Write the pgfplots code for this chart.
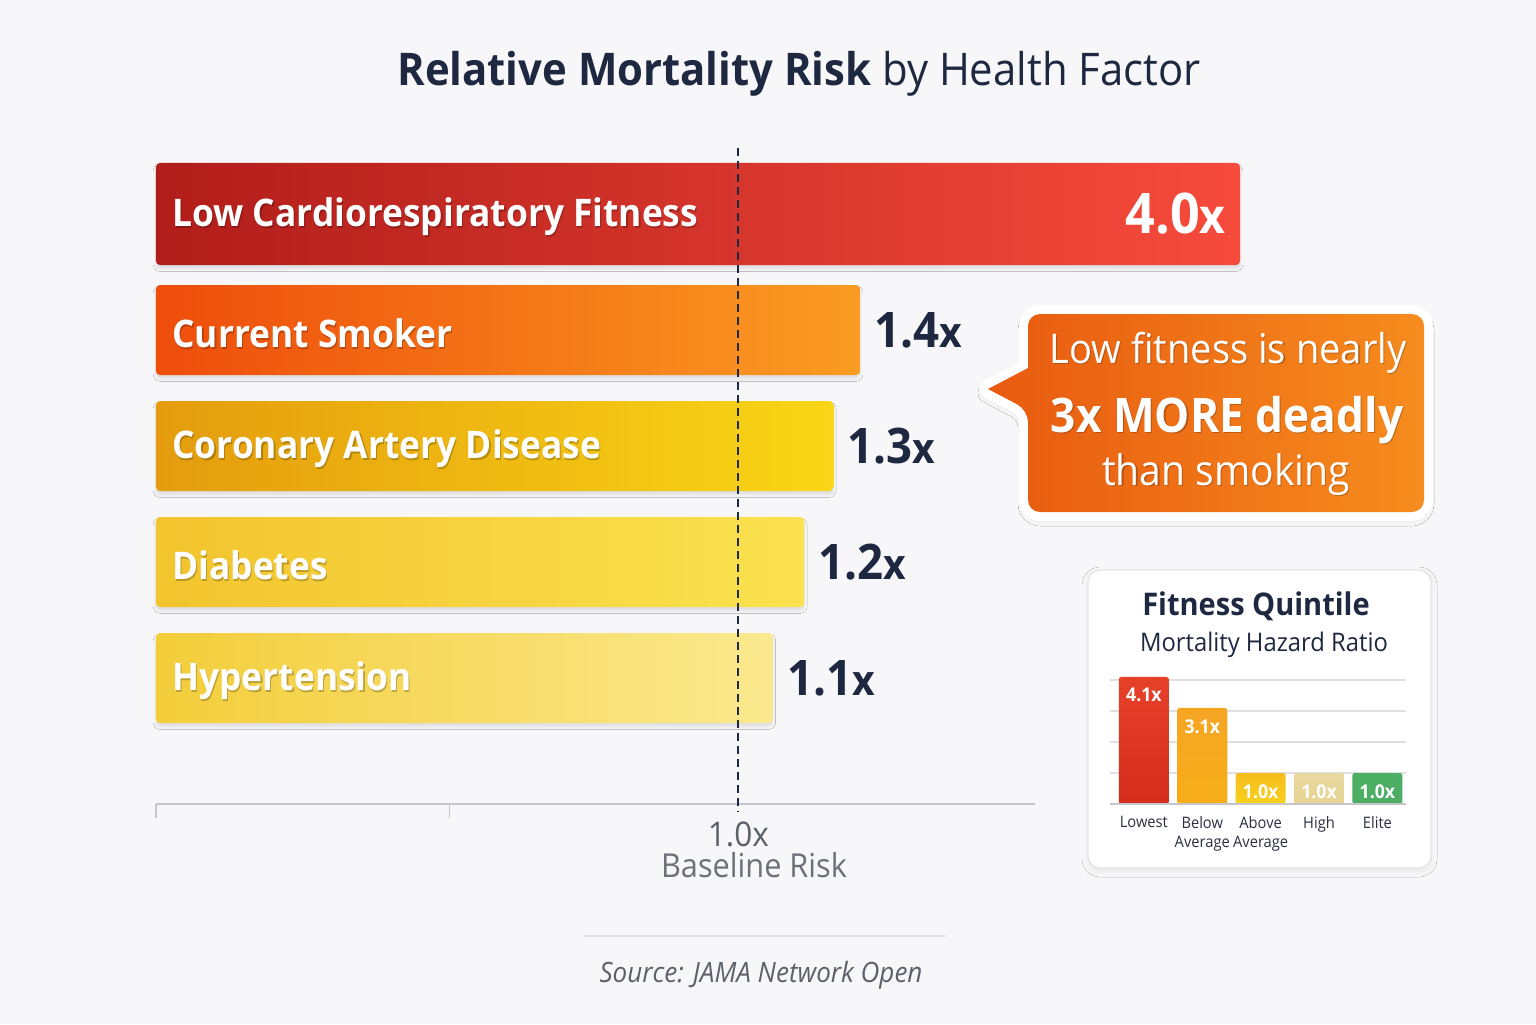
\documentclass[border=0pt]{standalone}
\usepackage{pgfplots}
\pgfplotsset{compat=1.18}
\usepackage{fontspec}
\setmainfont{Open Sans}[FakeStretch=0.93]
\usetikzlibrary{shadows.blur}

% palette
\definecolor{pagebg}{HTML}{F7F7F9}
\definecolor{ink}{HTML}{1E2840}
\definecolor{ink2}{HTML}{2A3040}
\definecolor{muted}{HTML}{5C606A}
\definecolor{axisgray}{HTML}{C4C6CC}
\definecolor{sepgray}{HTML}{E2E3E7}
\definecolor{gridgray}{HTML}{DEDFE3}
\definecolor{cardborder}{HTML}{E4E5EA}
\definecolor{cardioL}{HTML}{B11D1A}
\definecolor{cardioR}{HTML}{F64B3C}
\definecolor{smokeL}{HTML}{EE4D0C}
\definecolor{smokeR}{HTML}{FA9C22}
\definecolor{cadL}{HTML}{E49C0E}
\definecolor{cadR}{HTML}{F9D616}
\definecolor{diabL}{HTML}{F2C42E}
\definecolor{diabR}{HTML}{FBE250}
\definecolor{hyperL}{HTML}{F3CD3A}
\definecolor{hyperR}{HTML}{FBE98F}
\definecolor{calloutL}{HTML}{E85A10}
\definecolor{calloutR}{HTML}{F68C1E}
\definecolor{qRedT}{HTML}{E8412A}
\definecolor{qRedB}{HTML}{D52C1C}
\definecolor{qOrT}{HTML}{F6A523}
\definecolor{qOrB}{HTML}{F7AE18}
\definecolor{qYeT}{HTML}{F5BD1E}
\definecolor{qYeB}{HTML}{F9D11C}
\definecolor{qTanT}{HTML}{E9D8A0}
\definecolor{qTanB}{HTML}{E5D492}
\definecolor{qGreen}{HTML}{4CAE63}

% value label: digits, then a slightly smaller "x"
\newcommand\val[3]{{\fontsize{#2}{#2}\selectfont\bfseries #1{\fontsize{#3}{#3}\selectfont x}}}

% white text with a soft drop shadow
\newcommand\shadowlabel[3]{%
  \node[#1, inner sep=0pt, text=black, text opacity=0.22, xshift=0.6pt, yshift=-0.9pt] at #2 {#3};
  \node[#1, inner sep=0pt, text=white] at #2 {#3};}

\begin{document}
\begin{tikzpicture}[outside value/.style={anchor=west, inner sep=0pt, xshift=7pt, text=ink},
  barname/.style={anchor=west, xshift=8pt, yshift=-1.5pt, font=\fontsize{19}{22}\selectfont\bfseries}]
% page layout drawn in a 1536 x 1024 grid (y downwards)
\begin{scope}[x=0.5pt,y=-0.5pt]
\useasboundingbox (0,0) rectangle (1536,1024);
\fill[pagebg] (0,0) rectangle (1536,1024);
\node[anchor=base, inner sep=0pt, text=ink, font=\fontsize{22.5}{26}\selectfont]
  at (799,85) {\textbf{Relative Mortality Risk} by Health Factor};
\end{scope}

% ---------------- main bar chart (log scale, bars start at xmin) ----------------
\begin{axis}[
  at={(78pt,-72.2pt)}, anchor=north west,
  scale only axis, width=542pt, height=359.6pt,
  xmode=log,
  xmin=0.2, xmax=4.0,
  ymin=-0.6, ymax=5.6, y dir=reverse,
  hide axis, clip=false,
  every axis plot/.append style={draw=none, mark=none, rounded corners=2pt,
    blur shadow={shadow xshift=0pt, shadow yshift=-1.8pt, shadow blur radius=1.4pt, shadow opacity=10}},
]
% each bar: from the axis origin (xmin) to its hazard ratio
\addplot[left color=cardioL, right color=cardioR]
  coordinates {(0.2,-0.44) (4.0,-0.44) (4.0,0.44) (0.2,0.44)} -- cycle;
\addplot[left color=smokeL, right color=smokeR]
  coordinates {(0.2,0.612) (1.4,0.612) (1.4,1.388) (0.2,1.388)} -- cycle;
\addplot[left color=cadL, right color=cadR]
  coordinates {(0.2,1.612) (1.3,1.612) (1.3,2.388) (0.2,2.388)} -- cycle;
\addplot[left color=diabL, right color=diabR]
  coordinates {(0.2,2.612) (1.2,2.612) (1.2,3.388) (0.2,3.388)} -- cycle;
\addplot[left color=hyperL, right color=hyperR]
  coordinates {(0.2,3.612) (1.1,3.612) (1.1,4.388) (0.2,4.388)} -- cycle;

% value labels
\node[anchor=east, inner sep=0pt, xshift=-7pt, text=white] at (axis cs:4.0,0) {\val{4.0}{28}{24}};
\node[outside value] at (axis cs:1.4,1) {\val{1.4}{24.5}{21}};
\node[outside value] at (axis cs:1.3,2) {\val{1.3}{24.5}{21}};
\node[outside value] at (axis cs:1.2,3) {\val{1.2}{24.5}{21}};
\node[outside value] at (axis cs:1.1,4) {\val{1.1}{24.5}{21}};

% category names inside the bars
\shadowlabel{barname}{(axis cs:0.2,0)}{Low Cardiorespiratory Fitness}
\shadowlabel{barname}{(axis cs:0.2,1)}{Current Smoker}
\shadowlabel{barname}{(axis cs:0.2,2)}{Coronary Artery Disease}
\shadowlabel{barname}{(axis cs:0.2,3)}{Diabetes}
\shadowlabel{barname}{(axis cs:0.2,4)}{Hypertension}

% baseline axis with ticks
\draw[axisgray, line width=0.9pt] (axis cs:0.2,5.086) -- (axis cs:2.27,5.086);
\draw[axisgray, line width=0.9pt] (axis cs:0.2,5.086) -- (axis cs:0.2,5.21);
\draw[axisgray, line width=0.9pt] (axis cs:0.45,5.086) -- (axis cs:0.45,5.21);
% risk = 1.0 reference
\draw[ink, line width=0.9pt, dash pattern=on 4pt off 2.5pt] (axis cs:1,-0.57) -- (axis cs:1,5.155);
\node[anchor=north, inner sep=0pt, yshift=-8.5pt, text=muted, font=\fontsize{17}{17}\selectfont]
  at (axis cs:1,5.086) {1.0x};
\end{axis}

\begin{scope}[x=0.5pt,y=-0.5pt]
\node[anchor=base, inner sep=0pt, text=muted!90, font=\fontsize{16.5}{16.5}\selectfont] at (754,877) {Baseline Risk};

% ---------------- callout ----------------
\path[fill=white, draw=white, line width=9pt, line join=round,
  blur shadow={shadow xshift=0pt, shadow yshift=-2pt, shadow blur radius=5pt, shadow opacity=12}]
  (1028,410) -- (988,389) -- (1028,368) [rounded corners=6pt] -- (1028,314) -- (1424,314)
  -- (1424,512) -- (1028,512) -- cycle;
\path[left color=calloutL, right color=calloutR]
  (1028,410) -- (988,389) -- (1028,368) [rounded corners=6pt] -- (1028,314) -- (1424,314)
  -- (1424,512) -- (1028,512) -- cycle;
\shadowlabel{anchor=base, font=\fontsize{20.5}{20.5}\selectfont}{(1228,363)}{Low fitness is nearly}
\shadowlabel{anchor=base, font=\fontsize{23.8}{23.8}\selectfont\bfseries}{(1227,432)}{3x MORE deadly}
\shadowlabel{anchor=base, font=\fontsize{21}{21}\selectfont}{(1226,485)}{than smoking}

% ---------------- fitness quintile card ----------------
\path[fill=white, draw=cardborder, line width=0.7pt, rounded corners=6pt,
  blur shadow={shadow xshift=0pt, shadow yshift=-1.5pt, shadow blur radius=3pt, shadow opacity=7}]
  (1088,570) rectangle (1431,868);
\node[anchor=base, inner sep=0pt, text=ink, font=\fontsize{15.6}{15.6}\selectfont\bfseries] at (1256,615) {Fitness Quintile};
\node[anchor=base, inner sep=0pt, text=ink, font=\fontsize{12.8}{12.8}\selectfont] at (1264,651) {Mortality Hazard Ratio};

% ---------------- source ----------------
\draw[sepgray, line width=0.8pt] (584,936) -- (946,936);
\node[anchor=base, inner sep=0pt, text=muted, font=\fontsize{14}{14}\selectfont\itshape] at (761,982) {Source: JAMA Network Open};
\end{scope}

\begin{axis}[
  at={(555pt,-402pt)}, anchor=south west,
  scale only axis, width=148pt, height=66pt,
  xmin=-0.58, xmax=4.49, ymin=0, ymax=4.26,
  axis line style={draw=none},
  ytick={1,2,3,4}, yticklabels={}, ymajorgrids,
  grid style={line width=0.6pt, draw=gridgray},
  xtick={0,1,2,3,4},
  xticklabels={Lowest, Below\\Average, Above\\Average, High, Elite},
  xticklabel style={align=center, font=\fontsize{7.9}{9.4}\selectfont, text=ink2, inner sep=0pt, yshift=-6pt},
  major tick length=0pt, tick style={draw=none},
  clip=false,
  point meta=rawy,
  every axis plot/.append style={ybar, bar shift=0pt, bar width=25pt, draw=none, rounded corners=1.2pt},
  nodes near coords={\pgfmathprintnumber[fixed,fixed zerofill,precision=1,assume math mode=true]{\pgfplotspointmeta}x},
  nodes near coords align={anchor=north},
  every node near coord/.append style={font=\fontsize{9.5}{9.5}\selectfont\bfseries, text=white, yshift=-5.5pt, inner sep=0pt},
]
\addplot[top color=qRedT, bottom color=qRedB] coordinates {(0,4.1)};
\addplot[top color=qOrT, bottom color=qOrB] coordinates {(1,3.1)};
\addplot[top color=qYeT, bottom color=qYeB] coordinates {(2,1.0)};
\addplot[top color=qTanT, bottom color=qTanB] coordinates {(3,1.0)};
\addplot[fill=qGreen] coordinates {(4,1.0)};
\draw[axisgray, line width=0.9pt] (axis cs:-0.58,0) -- (axis cs:4.49,0);
\end{axis}
\end{tikzpicture}
\end{document}
